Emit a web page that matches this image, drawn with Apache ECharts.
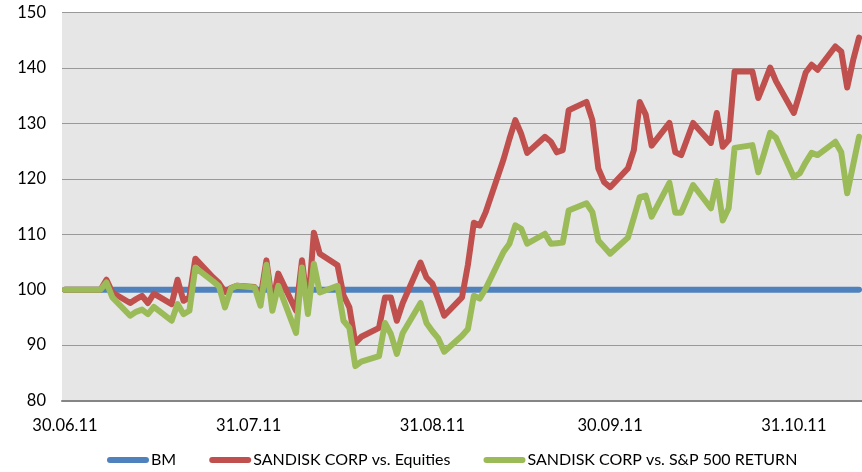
<!DOCTYPE html>
<html><head><meta charset="utf-8">
<script src="https://cdn.jsdelivr.net/npm/echarts@6/dist/echarts.min.js"></script>
<style>html,body{margin:0;padding:0;background:#fff}#c{width:862px;height:472px}</style>
</head><body><div id="c"></div>
<script>
const dates = [
 '2011-06-30','2011-07-01','2011-07-05','2011-07-06','2011-07-07','2011-07-08','2011-07-11','2011-07-12','2011-07-13','2011-07-14','2011-07-15',
 '2011-07-18','2011-07-19','2011-07-20','2011-07-21','2011-07-22','2011-07-25','2011-07-26','2011-07-27','2011-07-28','2011-07-29',
 '2011-08-01','2011-08-02','2011-08-03','2011-08-04','2011-08-05','2011-08-08','2011-08-09','2011-08-10','2011-08-11','2011-08-12',
 '2011-08-15','2011-08-16','2011-08-17','2011-08-18','2011-08-19','2011-08-22','2011-08-23','2011-08-24','2011-08-25','2011-08-26',
 '2011-08-29','2011-08-30','2011-08-31','2011-09-01','2011-09-02','2011-09-05','2011-09-06','2011-09-07','2011-09-08','2011-09-09',
 '2011-09-12','2011-09-13','2011-09-14','2011-09-15','2011-09-16','2011-09-19','2011-09-20','2011-09-21','2011-09-22','2011-09-23',
 '2011-09-26','2011-09-27','2011-09-28','2011-09-29','2011-09-30','2011-10-03','2011-10-04','2011-10-05','2011-10-06','2011-10-07',
 '2011-10-10','2011-10-11','2011-10-12','2011-10-13','2011-10-14','2011-10-17','2011-10-18','2011-10-19','2011-10-20','2011-10-21',
 '2011-10-24','2011-10-25','2011-10-26','2011-10-27','2011-10-28','2011-10-31','2011-11-01','2011-11-02','2011-11-03','2011-11-04',
 '2011-11-07','2011-11-08','2011-11-09','2011-11-10','2011-11-11'
];
const bmValues = [
 100,100,100,100,100,100,100,100,100,100,100,100,
 100,100,100,100,100,100,100,100,100,100,100,100,
 100,100,100,100,100,100,100,100,100,100,100,100,
 100,100,100,100,100,100,100,100,100,100,100,100,
 100,100,100,100,100,100,100,100,100,100,100,100,
 100,100,100,100,100,100,100,100,100,100,100,100,
 100,100,100,100,100,100,100,100,100,100,100,100,
 100,100,100,100,100,100,100,100,100,100,100,100
];
const sandiskVsEquities = [
 100,100,100,100,101.8,99.5,97.6,98.3,98.9,97.6,99.3,
 97.4,101.8,98.0,98.6,105.6,102.2,101.2,99.6,100.3,100.7,
 100.5,98.6,105.3,97.4,102.9,96.2,105.3,96.6,110.3,106.5,
 104.4,99.0,96.8,90.4,91.5,93.1,98.6,98.6,94.4,97.6,
 104.9,102.2,101.1,98.3,95.3,98.6,104.5,112.1,111.6,114.0,
 123.5,127.2,130.6,128.1,124.7,127.6,126.7,124.8,125.2,132.4,
 133.9,130.6,121.9,119.4,118.5,121.9,125.2,133.9,131.6,126.0,
 130.1,124.8,124.3,127.2,130.1,126.5,131.9,125.8,127.0,139.4,
 139.4,134.6,137.3,140.1,137.6,131.9,135.5,139.2,140.6,139.7,
 143.9,143.0,136.5,141.4,145.5
];
const sandiskVsSP500 = [
 100,100,100,100,101.3,98.6,95.3,96.0,96.4,95.6,96.9,
 94.4,97.4,95.6,96.2,104.0,101.5,100.6,96.8,100.2,100.7,
 100.4,97.1,104.5,96.2,100.7,92.2,104.0,95.6,104.7,99.5,
 100.7,94.4,93.1,86.2,87.0,88.0,94.0,92.0,88.4,92.2,
 97.6,94.0,92.5,91.2,88.8,91.7,92.9,98.9,98.4,100.2,
 106.8,108.3,111.6,111.0,108.3,110.1,108.3,108.4,108.5,114.3,
 115.6,114.0,108.9,107.7,106.5,109.4,113.0,116.7,117.0,113.2,
 119.3,113.9,113.9,116.4,118.9,114.7,119.6,112.5,114.7,125.6,
 126.1,121.2,124.7,128.3,127.4,120.3,121.0,123.0,124.7,124.3,
 126.7,124.8,117.4,122.5,127.6
];
const seriesNames = ['BM', 'SANDISK CORP vs. Equities', 'SANDISK CORP vs. S&P 500 RETURN'];
const xTickDates = ['2011-06-30','2011-07-31','2011-08-31','2011-09-30','2011-10-31'];
const yMin = 80, yMax = 150, yStep = 10;

const FONT = 'Lato, Liberation Sans, sans-serif';
const DAY = 86400000;
function ts(s){ const p = s.split('-'); return Date.UTC(+p[0], +p[1]-1, +p[2]); }
const T0 = ts(dates[0]);
const dayIdx = s => Math.round((ts(s) - T0) / DAY);
function fmt(v){ const d = new Date(T0 + Math.round(v) * DAY); const z = n => (n < 10 ? '0' : '') + n;
  return z(d.getUTCDate()) + '.' + z(d.getUTCMonth()+1) + '.' + z(d.getUTCFullYear() % 100); }
const pair = vals => dates.map((d, i) => [dayIdx(d), vals[i]]);
const colors = ['#4F81BD', '#C0504D', '#9BBB59'];
const legendIcon = 'path://M3,0 L39,0 A3,3 0 0 1 39,6 L3,6 A3,3 0 0 1 3,0 Z';

const chart = echarts.init(document.getElementById('c'), null, {renderer: 'canvas'});
chart.setOption({
  animation: false,
  color: colors,
  grid: {left: 62, right: 0, top: 12.7, bottom: 71.5, show: true, backgroundColor: '#e6e6e6', borderWidth: 0},
  xAxis: {
    type: 'value',
    min: -0.5,
    max: dayIdx(dates[dates.length-1]) + 0.5,
    axisLine: {show: true, onZero: false, lineStyle: {color: '#858585', width: 2}},
    axisTick: {show: false},
    splitLine: {show: false},
    axisLabel: {customValues: xTickDates.map(dayIdx), formatter: fmt, fontFamily: FONT, fontSize: 16.5, color: '#000', margin: 17, hideOverlap: false}
  },
  yAxis: {
    type: 'value', min: yMin, max: yMax, interval: yStep,
    axisLine: {show: false}, axisTick: {show: false},
    splitLine: {show: true, lineStyle: {color: '#999999', width: 1}},
    axisLabel: {fontFamily: FONT, fontSize: 16.5, color: '#000', margin: 16}
  },
  legend: {
    left: 107, top: 452, padding: 0, itemWidth: 42, itemHeight: 6, itemGap: 33,
    icon: legendIcon,
    textStyle: {fontFamily: FONT, fontSize: 16, color: '#000', padding: [0, 0, 0, -3]},
    data: seriesNames
  },
  series: [
    {name: seriesNames[0], type: 'line', data: pair(bmValues), showSymbol: false, symbol: 'none',
     lineStyle: {width: 6, color: colors[0], cap: 'round', join: 'round'}, z: 2},
    {name: seriesNames[1], type: 'line', data: pair(sandiskVsEquities), showSymbol: false, symbol: 'none',
     lineStyle: {width: 6, color: colors[1], cap: 'round', join: 'round'}, z: 3},
    {name: seriesNames[2], type: 'line', data: pair(sandiskVsSP500), showSymbol: false, symbol: 'none',
     lineStyle: {width: 6, color: colors[2], cap: 'round', join: 'round'}, z: 4}
  ]
});
</script></body></html>
